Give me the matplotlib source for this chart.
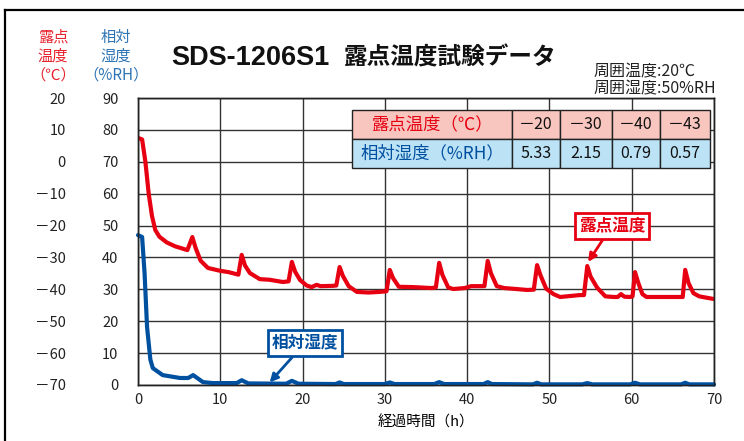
import numpy as np
import matplotlib
matplotlib.use("Agg")
import matplotlib.pyplot as plt
from matplotlib.lines import Line2D

plt.rcParams['font.family'] = ['Noto Sans CJK JP', 'DejaVu Sans']

# 露点温度 (°C)
t_dew = [0, 0.5, 0.9, 1.3, 1.7, 2.1, 2.6, 3.5, 4.5, 6.0, 6.6, 7.0, 7.6, 8.5,
         10, 11, 12.2, 12.6, 13.0, 13.6, 14.8, 16, 17.6, 18.3, 18.7, 19.1,
         19.7, 20.5, 21.1, 21.7, 22.2, 23.7, 24.1, 24.5, 24.9, 25.6, 26.6, 28,
         29.4, 30.2, 30.6, 31.0, 31.7, 33.4, 35.7, 36.2, 36.6, 37.0, 37.7, 38.3,
         39.7, 40.5, 41.6, 42.1, 42.5, 42.9, 43.6, 44.5, 45.5, 47.3, 48.1, 48.5,
         48.9, 49.6, 50.5, 51.3, 53.7, 54.2, 54.6, 55.0, 55.8, 56.8, 57.8, 58.3,
         58.7, 59.1, 59.8, 60.1, 60.4, 60.8, 61.3, 61.8, 65.6, 66.2, 66.5, 66.9,
         67.5, 68.2, 69.9]
dew = [7.5, 7, 0, -10, -17, -21.4, -23.5, -25.3, -26.5, -27.7, -23.6, -27,
       -31, -33.3, -34.2, -34.6, -35.4, -29.2, -32.5, -34.9, -36.8, -37,
       -37.7, -37.5, -31.4, -34.5, -37.1, -38.8, -39.3, -38.6, -39, -38.9,
       -38.8, -33, -35.8, -39, -40.8, -41, -40.8, -40.6, -33.9, -36.5, -39.2,
       -39.3, -39.6, -39.4, -31.7, -35.5, -39.4, -39.9, -39.6, -39, -39, -39,
       -31.1, -35, -39, -39.6, -39.8, -40.2, -40.1, -32.4, -35.5, -39.8, -41.5,
       -42.4, -41.8, -41.8, -32.7, -36, -39.5, -42.2, -42.4, -42.4, -41.5,
       -42.3, -42.4, -42.2, -34.6, -38, -41.5, -42.4, -42.4, -42.4, -33.9,
       -38, -41.2, -42.2, -43]

# 相対湿度 (%RH)
t_rh = [0, 0.5, 0.8, 1.1, 1.5, 1.8, 3, 5.1, 6.1, 6.7, 7.9, 9.1, 12, 12.6,
        13.4, 18, 18.7, 19.5, 24, 24.5, 25, 30, 30.6, 31.2, 36, 36.6, 37.2,
        42, 42.5, 43, 48, 48.5, 49, 54, 54.6, 55.2, 59.8, 60.4, 61, 66, 66.5,
        67, 70]
rh = [47, 46.4, 35, 18.2, 8, 5.3, 3.1, 2.2, 2.2, 3.1, 0.9, 0.6, 0.6, 1.5,
      0.5, 0.4, 1.3, 0.4, 0.3, 0.8, 0.3, 0.3, 0.8, 0.3, 0.3, 0.9, 0.3,
      0.3, 0.9, 0.3, 0.2, 0.7, 0.2, 0.2, 0.6, 0.2, 0.2, 0.7, 0.2, 0.2, 0.7,
      0.2, 0.2]

dew_ticks = [20, 10, 0, -10, -20, -30, -40, -50, -60, -70]
rh_ticks = [90, 80, 70, 60, 50, 40, 30, 20, 10, 0]
x_ticks = [0, 10, 20, 30, 40, 50, 60, 70]

tbl_head = ['露点温度（℃）', '－20', '－30', '－40', '－43']
tbl_rh = ['相対湿度（%RH）', '5.33', '2.15', '0.79', '0.57']

RED = '#E60012'
BLUE = '#0050A0'

fig = plt.figure(figsize=(7.44, 4.41), dpi=100)
ax = fig.add_axes([138/744, 1-385/441, 576/744, 287/441])
ax2 = ax.twinx()

# 軸の設定
ax.set_xlim(0, 70)
ax.set_ylim(-70, 20)
ax2.set_ylim(0, 90)
ax.set_xticks(x_ticks)
ax.set_xticklabels([str(v) for v in x_ticks])
ax.set_yticks(dew_ticks)
ax.set_yticklabels([str(v).replace('-', '－') for v in dew_ticks])
ax2.set_yticks(rh_ticks)
ax2.set_yticklabels([str(v) for v in rh_ticks])
ax2.yaxis.set_ticks_position('left')
ax.tick_params(axis='y', length=0, pad=52, labelsize=10.5, colors='#222222')
ax.tick_params(axis='x', length=0, pad=6, labelsize=10.5, colors='#222222')
ax2.tick_params(axis='y', length=0, pad=14, labelsize=10.5, colors='#222222')
ax.grid(True, color='#333333', linewidth=1.0)
ax.set_axisbelow(True)
for sp in list(ax.spines.values()) + list(ax2.spines.values()):
    sp.set_color('#222222')
    sp.set_linewidth(1.0)

ax2.plot(t_rh, rh, color=BLUE, linewidth=3, solid_joinstyle='round',
         solid_capstyle='round', clip_on=False)
ax.plot(t_dew, dew, color=RED, linewidth=3, solid_joinstyle='round',
        solid_capstyle='round')

ax.set_xlabel('経過時間（h）', fontsize=10.5, labelpad=6)

# 表
tb = ax2.table(cellText=[tbl_head, tbl_rh], cellLoc='center',
               colWidths=[160, 48, 52, 48, 50],
               bbox=[(352-138)/576, (385-168)/287, (710-352)/576, 58/287])
tb.auto_set_font_size(False)
for (r, c), cell in tb.get_celld().items():
    cell.set_facecolor('#F8C6BE' if r == 0 else '#BCE2F6')
    cell.set_edgecolor('#222222')
    cell.set_linewidth(1.0)
    txt = cell.get_text()
    txt.set_fontsize(11.5)
    if c == 0:
        txt.set_color(RED if r == 0 else BLUE)
        txt.set_fontsize(12.5)
    else:
        txt.set_color('#111111')
tb.set_zorder(5)

# 注記
ax.annotate('露点温度', xy=(54.7, -31.4), xytext=(57.6, -20.1),
            fontsize=12, fontweight='bold', color=RED, ha='center', va='center',
            bbox=dict(boxstyle='square,pad=0.25', fc='white', ec=RED, lw=2),
            arrowprops=dict(arrowstyle='-|>', color=RED, lw=2, mutation_scale=12,
                            shrinkA=0, shrinkB=0))
ax2.annotate('相対湿度', xy=(16.0, 0.8), xytext=(20.3, 13.2),
             fontsize=12, fontweight='bold', color=BLUE, ha='center', va='center',
             bbox=dict(boxstyle='square,pad=0.25', fc='white', ec=BLUE, lw=2),
             arrowprops=dict(arrowstyle='-|>', color=BLUE, lw=2, mutation_scale=12,
                             shrinkA=0, shrinkB=0))

# タイトル・軸ラベル
fig.text(171/744, 1-58/441, 'SDS-1206S1', fontsize=19.5, family='Liberation Sans',
         fontweight='bold', ha='left', va='center', color='#111111')
fig.text(344/744, 1-57/441, '露点温度試験データ', fontsize=17,
         fontweight='bold', ha='left', va='center', color='#111111')
fig.text(593/744, 1-72/441, '周囲温度:20℃', fontsize=11.5, ha='left', va='center',
         color='#222222')
fig.text(593/744, 1-89/441, '周囲湿度:50%RH', fontsize=11.5, ha='left', va='center',
         color='#222222')
fig.text(53/744, 1-56/441, '露点\n温度\n（℃）', fontsize=11, ha='center',
         va='center', color='#E8232E', linespacing=1.15)
fig.text(116/744, 1-56/441, '相対\n湿度\n（%RH）', fontsize=11, ha='center',
         va='center', color='#2E75B6', linespacing=1.15)

# 外枠
fig.add_artist(Line2D([5/744, 5/744], [0, 1-10/441], color='black', lw=1.6,
                      transform=fig.transFigure))
fig.add_artist(Line2D([5/744, 1], [1-10/441, 1-10/441], color='black', lw=1.6,
                      transform=fig.transFigure))

fig.savefig('out.png', dpi=100)
